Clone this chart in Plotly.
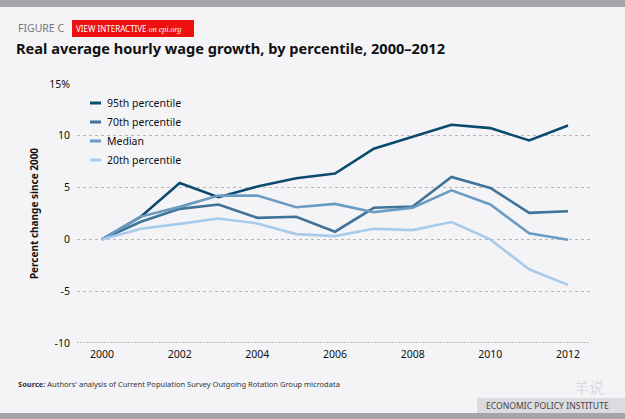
import plotly.graph_objects as go

years = list(range(2000, 2013))
p95 = [0, 2.2, 5.45, 4.07, 5.1, 5.9, 6.35, 8.75, 9.9, 11.06, 10.74, 9.55, 11.0]
p70 = [0, 1.7, 2.95, 3.37, 2.08, 2.18, 0.74, 3.05, 3.17, 6.03, 4.97, 2.56, 2.72]
median = [0, 2.2, 3.14, 4.23, 4.23, 3.1, 3.43, 2.63, 3.05, 4.74, 3.37, 0.58, -0.03]
p20 = [0, 1.03, 1.5, 2.02, 1.54, 0.51, 0.32, 1.03, 0.9, 1.67, 0.0, -2.88, -4.39]

series_names = ["95th percentile", "70th percentile", "Median", "20th percentile"]
series_colors = ["#0b4a6e", "#3f7398", "#6a9cc2", "#a8cbeb"]
y_ticks = [-10, -5, 0, 5, 10, 15]
y_tick_labels = ["-10", "-5", "0", "5", "10", "15%"]
x_ticks = [2000, 2002, 2004, 2006, 2008, 2010, 2012]

BG = "#f4f4f7"
FONT = "Noto Sans"

fig = go.Figure()
for name, vals, col in zip(series_names, [p95, p70, median, p20], series_colors):
    fig.add_trace(go.Scatter(x=years, y=vals, name=name, mode="lines",
                             line=dict(color=col, width=2.6), showlegend=False))

fig.update_layout(
    width=625, height=419,
    paper_bgcolor=BG, plot_bgcolor=BG,
    margin=dict(l=77, r=35, t=84, b=76),
    font=dict(family=FONT, size=11, color="#111111"),
    xaxis=dict(range=[1999.356, 2012.567], tickvals=x_ticks, showgrid=False,
               zeroline=False, showline=False, ticks="", tickfont=dict(size=10.5),
               ticklabelstandoff=3),
    yaxis=dict(range=[-10, 15], tickvals=y_ticks, ticktext=y_tick_labels,
               showgrid=True, gridcolor="#b8b8b8", griddash="dot", gridwidth=1,
               zeroline=False, showline=False, ticks="", tickfont=dict(size=10.5),
               ticklabelstandoff=6,
               title=dict(text="<b>Percent change since 2000</b>",
                          font=dict(size=10), standoff=8)),
)

def px_x(x):
    return (x - 77) / 513

def px_y(y):
    return (343 - y) / 259

shapes = [
    dict(type="rect", xref="paper", yref="paper", x0=px_x(0), x1=px_x(625),
         y0=px_y(7), y1=px_y(0), fillcolor="#a5a5a9", line=dict(width=0)),
    dict(type="rect", xref="paper", yref="paper", x0=px_x(0), x1=px_x(625),
         y0=px_y(419), y1=px_y(413), fillcolor="#a5a5a9", line=dict(width=0)),
    dict(type="rect", xref="paper", yref="paper", x0=px_x(72), x1=px_x(194),
         y0=px_y(37), y1=px_y(20), fillcolor="#ee1111", line=dict(width=0)),
    dict(type="rect", xref="paper", yref="paper", x0=px_x(477), x1=px_x(625),
         y0=px_y(413), y1=px_y(398), fillcolor="#dcdce0", line=dict(width=0)),
    dict(type="line", xref="paper", yref="y", x0=0, x1=1, y0=-10, y1=-10,
         line=dict(color="#aaaaaa", width=1.5, dash="2px,1px")),
]

ann = [
    dict(text="FIGURE C", x=px_x(16), y=px_y(28), font=dict(size=10.5, color="#777777")),
    dict(text="VIEW INTERACTIVE <i><span style='font-family:Liberation Serif'>on epi.org</span></i>",
         x=px_x(74), y=px_y(28.5), font=dict(size=8, color="white")),
    dict(text="<b>Real average hourly wage growth, by percentile, 2000–2012</b>",
         x=px_x(14), y=px_y(48), font=dict(size=14.6, color="#111111")),
    dict(text="<b>Source:</b> Authors' analysis of Current Population Survey Outgoing Rotation Group microdata",
         x=px_x(16), y=px_y(384), font=dict(size=7.5, color="#333333")),
    dict(text="ECONOMIC POLICY INSTITUTE", x=px_x(484), y=px_y(405.5),
         font=dict(size=8.6, color="#444444")),
    dict(text="羊说", x=px_x(572), y=px_y(386),
         font=dict(size=15, color="#dadade", family="Noto Sans CJK SC")),
]

# manual legend (short line keys like the reference)
legend_y = [103, 122, 141, 160]
for name, col, ly in zip(series_names, series_colors, legend_y):
    shapes.append(dict(type="line", xref="paper", yref="paper",
                       x0=px_x(90), x1=px_x(101), y0=px_y(ly), y1=px_y(ly),
                       line=dict(color=col, width=3)))
    ann.append(dict(text=name, x=px_x(105), y=px_y(ly), font=dict(size=10.5, color="#111111")))

for a in ann:
    a.update(xref="paper", yref="paper", xanchor="left", yanchor="middle",
             showarrow=False)
fig.update_layout(shapes=shapes, annotations=ann)

fig.write_html("out.html", config={"displayModeBar": False},
               post_script="document.body.style.margin='0';document.body.style.padding='0';"
                           "document.body.style.background='#f4f4f7';")
